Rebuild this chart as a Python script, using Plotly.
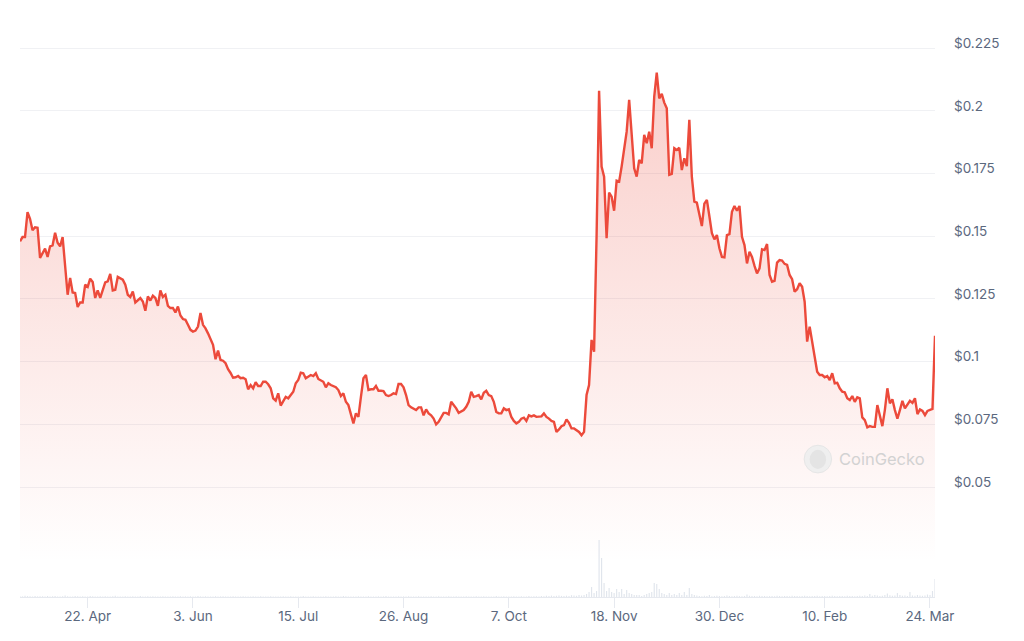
import pandas as pd
import plotly.graph_objects as go

# ---------------- data ----------------
start_date = "2024-03-26"

price = [
    0.148, 0.1497, 0.1497, 0.1596, 0.157, 0.1524, 0.1536, 0.1534, 0.1414, 0.1434,
    0.1451, 0.1418, 0.146, 0.1464, 0.1514, 0.1474, 0.146, 0.1497, 0.138, 0.1267,
    0.1334, 0.1276, 0.1274, 0.1218, 0.1236, 0.1236, 0.1307, 0.1298, 0.1331, 0.1318,
    0.1254, 0.1284, 0.1254, 0.1287, 0.1316, 0.132, 0.135, 0.1284, 0.1287, 0.1338,
    0.1334, 0.1327, 0.1307, 0.1267, 0.1258, 0.128, 0.1236, 0.1244, 0.1254, 0.124,
    0.1203, 0.126, 0.1244, 0.1263, 0.1254, 0.1223, 0.1284, 0.1258, 0.1267, 0.1223,
    0.1214, 0.1214, 0.1196, 0.122, 0.1184, 0.117, 0.1167, 0.1147, 0.1127, 0.112,
    0.1124, 0.114, 0.1194, 0.1147, 0.1133,
    0.1113, 0.1093, 0.1067, 0.101, 0.1044, 0.1007, 0.1004, 0.0994, 0.097, 0.0955,
    0.0936, 0.0938, 0.0943, 0.0934, 0.0936, 0.093, 0.089, 0.0907, 0.0894, 0.0918,
    0.0903, 0.0903, 0.092, 0.092, 0.091, 0.0894, 0.0854, 0.0845, 0.0874, 0.0825,
    0.0845, 0.086, 0.0854, 0.0867, 0.088, 0.0914, 0.0927, 0.0956, 0.0954, 0.0934,
    0.094, 0.0947, 0.0943, 0.0954, 0.0931, 0.0924, 0.092, 0.0898, 0.0914, 0.0907,
    0.0903, 0.0898, 0.0887, 0.0863, 0.0874, 0.084, 0.0827, 0.0794, 0.0754, 0.0794,
    0.078, 0.086, 0.0934, 0.0947, 0.0887, 0.089, 0.089, 0.0903, 0.0884, 0.0884,
    0.0883, 0.0867, 0.0863, 0.0867, 0.0874, 0.0871, 0.0911, 0.0911, 0.0898, 0.0867,
    0.0827, 0.0818, 0.0814, 0.0807, 0.0818, 0.0818, 0.0786, 0.081, 0.0794, 0.0786,
    0.0773, 0.075, 0.076, 0.078, 0.0796, 0.0796, 0.079, 0.084, 0.0827, 0.0814,
    0.0796, 0.08, 0.0807, 0.082, 0.084, 0.088, 0.086, 0.0863, 0.0867, 0.085,
    0.0876, 0.0884, 0.0867, 0.0863, 0.084, 0.08, 0.0794, 0.0794, 0.0814, 0.0807,
    0.081, 0.078, 0.0764, 0.0754, 0.076, 0.0773, 0.0777, 0.0764, 0.0786, 0.0782,
    0.0786, 0.078, 0.0782, 0.0782, 0.0794, 0.078, 0.0773, 0.0764, 0.076, 0.072,
    0.073, 0.0743, 0.0747, 0.077, 0.0756, 0.0734, 0.0734, 0.0727, 0.072, 0.0707,
    0.072, 0.0867, 0.0907, 0.1087, 0.104, 0.15, 0.208, 0.1778, 0.1738, 0.1492,
    0.1674, 0.1658, 0.1602, 0.1722, 0.1718, 0.1778, 0.1855, 0.1917, 0.2044, 0.1924,
    0.1771, 0.1738, 0.1804, 0.1791, 0.1904, 0.1871, 0.1917, 0.1851, 0.2057, 0.2153,
    0.205, 0.2068, 0.2033, 0.201, 0.1745, 0.1749, 0.1851, 0.1844, 0.1853, 0.1764,
    0.1811, 0.178, 0.1964, 0.1738, 0.1638, 0.1634, 0.1581, 0.1541, 0.163, 0.1645,
    0.158, 0.1512, 0.1488, 0.1505, 0.1452, 0.1418, 0.1416, 0.1505, 0.1509, 0.1598,
    0.1621, 0.1602, 0.1621, 0.1498, 0.1465, 0.1392, 0.1438, 0.1418, 0.1382, 0.1352,
    0.1372, 0.1448, 0.1445, 0.1469, 0.1346, 0.1319, 0.1322, 0.1395, 0.1405, 0.1403,
    0.139, 0.1386, 0.1346, 0.1329, 0.1279, 0.1289, 0.1313, 0.1299, 0.1239, 0.108,
    0.114, 0.1073, 0.102, 0.096, 0.0947, 0.0947, 0.0938, 0.0943, 0.0927, 0.0954,
    0.0914, 0.0916, 0.0894, 0.088, 0.0878, 0.0854, 0.0847, 0.0863, 0.084, 0.0858,
    0.0854, 0.0778, 0.0767, 0.0738, 0.0743, 0.074, 0.074, 0.0827, 0.0778, 0.0743,
    0.0807, 0.0894, 0.0834, 0.085, 0.0807, 0.0773, 0.0807, 0.0844, 0.0814, 0.0831,
    0.0844, 0.0836, 0.0854, 0.0791, 0.081, 0.0804, 0.0787, 0.0804, 0.0807, 0.0812,
    0.1103,
]

volume = [
    8, 6, 12, 9, 7, 5, 10, 6, 8, 7, 5, 9, 6, 7, 11,
    6, 5, 8, 14, 7, 6, 5, 9, 7, 6, 8, 5, 6, 10, 7,
    5, 6, 7, 5, 8, 6, 5, 7, 12, 6, 5, 6, 8, 5, 6,
    7, 5, 6, 9, 5, 6, 7, 5, 8, 6, 5, 6, 7, 5, 6,
    5, 7, 6, 5, 8, 5, 6, 5, 7, 6, 5, 9, 6, 5, 7,
    6, 5, 6, 8, 5, 6, 7, 5, 6, 5, 8, 6, 5, 6, 7,
    5, 6, 5, 7, 6, 5, 8, 5, 6, 5, 7, 6, 5, 6, 5,
    8, 6, 5, 7, 5, 6, 5, 6, 9, 5, 6, 5, 7, 5, 6,
    5, 6, 7, 5, 6, 5, 8, 6, 5, 10, 7, 5, 6, 5, 6,
    7, 5, 6, 5, 8, 6, 5, 6, 7, 5, 6, 9, 5, 6, 5,
    6, 7, 5, 6, 5, 8, 6, 5, 6, 7, 5, 6, 5, 6, 8,
    5, 6, 7, 5, 6, 5, 7, 6, 5, 8, 6, 5, 6, 7, 5,
    6, 5, 8, 6, 5, 7, 6, 5, 6, 5, 9, 6, 5, 7, 6,
    5, 6, 8, 5, 6, 7, 5, 6, 9, 6, 7, 8, 6, 10, 8,
    12, 9, 14, 10, 12, 15, 11, 9, 13, 10, 18, 14, 12, 20, 15,
    20, 30, 50, 100, 40, 60, 570, 390, 140, 60, 90, 50, 40, 80, 50,
    80, 30, 70, 40, 30, 20, 20, 20, 10, 20, 30, 40, 50, 140, 130,
    80, 40, 30, 20, 40, 20, 30, 20, 40, 20, 50, 20, 90, 30, 20,
    15, 10, 8, 12, 9, 20, 8, 10, 12, 9, 8, 10, 15, 9, 8,
    10, 12, 9, 8, 10, 25, 12, 9, 10, 8, 12, 9, 10, 8, 9,
    10, 8, 12, 9, 8, 10, 9, 8, 12, 10, 9, 8, 10, 12, 9,
    8, 10, 9, 12, 8, 10, 9, 8, 10, 12, 9, 8, 10, 9, 8,
    12, 10, 9, 8, 10, 12, 9, 15, 10, 30, 12, 20, 15, 10, 12,
    20, 35, 18, 12, 15, 40, 20, 12, 15, 10, 50, 15, 12, 20, 15,
    12, 15, 25, 20, 60, 180,
]

tick_dates = ["2024-04-22", "2024-06-03", "2024-07-15", "2024-08-26", "2024-10-07",
              "2024-11-18", "2024-12-30", "2025-02-10", "2025-03-24"]
tick_labels = ["22. Apr", "3. Jun", "15. Jul", "26. Aug", "7. Oct",
               "18. Nov", "30. Dec", "10. Feb", "24. Mar"]

price_ticks = [0.05, 0.075, 0.1, 0.125, 0.15, 0.175, 0.2, 0.225]
price_tick_labels = ["$0.05", "$0.075", "$0.1", "$0.125", "$0.15", "$0.175", "$0.2", "$0.225"]

dates = pd.date_range(start_date, periods=len(price), freq="D")

# ---------------- figure ----------------
LINE = "#ec4a3b"
LABEL = "#5b687e"
GRID = "#f0f1f4"
FONT = "Inter, Roboto, 'Open Sans', sans-serif"

fig = go.Figure()

fig.add_trace(go.Bar(
    x=dates, y=volume, yaxis="y2",
    marker=dict(color="rgba(214,220,230,0.75)", line=dict(width=0)),
    hoverinfo="skip", showlegend=False,
))

fig.add_trace(go.Scatter(
    x=dates, y=price, mode="lines",
    line=dict(color=LINE, width=2.4),
    fill="tozeroy",
    fillgradient=dict(
        type="vertical",
        start=0.02, stop=0.2153,
        colorscale=[[0, "rgba(236,74,59,0.0)"], [1, "rgba(236,74,59,0.27)"]],
    ),
    hoverinfo="skip", showlegend=False,
))

fig.update_layout(
    width=1016, height=633,
    margin=dict(l=12, r=89, t=12, b=44),
    paper_bgcolor="white", plot_bgcolor="white",
    font=dict(family=FONT, color=LABEL, size=13),
    bargap=0.55,
    hovermode=False,
    xaxis=dict(
        range=[dates[0], dates[-1]],
        tickvals=pd.to_datetime(tick_dates), ticktext=tick_labels,
        ticks="outside", ticklen=10, tickcolor="#e6e9ef", tickwidth=1,
        showline=True, linecolor="#e6e9ef", linewidth=1,
        showgrid=False, zeroline=False,
        ticklabelstandoff=-3,
        tickfont=dict(size=13.5, color=LABEL),
        fixedrange=True,
    ),
    yaxis=dict(
        side="right",
        range=[0.00618, 0.23624],
        tickvals=price_ticks, ticktext=price_tick_labels,
        showgrid=True, gridcolor=GRID, gridwidth=1,
        zeroline=False, showline=False, ticks="",
        ticklabelstandoff=18, ticklabelshift=-5,
        tickfont=dict(size=13.5, color=LABEL),
        fixedrange=True,
    ),
    yaxis2=dict(
        overlaying="y", side="left",
        range=[0, 5770],
        showgrid=False, zeroline=False, showticklabels=False, showline=False,
        fixedrange=True,
    ),
)

# CoinGecko watermark
fig.add_shape(type="circle", xref="paper", yref="paper",
              x0=0.857, x1=0.887, y0=0.215, y1=0.263,
              fillcolor="#efefef", line=dict(color="#e6e6e6", width=1), layer="above")
fig.add_shape(type="circle", xref="paper", yref="paper",
              x0=0.863, x1=0.881, y0=0.222, y1=0.255,
              fillcolor="#e4e4e4", line=dict(width=0), layer="above")
fig.add_annotation(text="CoinGecko", xref="paper", yref="paper",
                   x=0.893, y=0.239, xanchor="left", yanchor="middle",
                   showarrow=False, font=dict(size=16.5, color="#d2d2d2", family=FONT))

fig.write_html("out.html", config={"displayModeBar": False})
